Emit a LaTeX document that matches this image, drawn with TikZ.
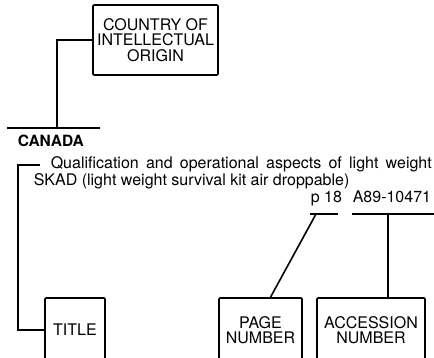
\documentclass[tikz,border=0pt]{standalone}
\usepackage{fontspec}
\setmainfont{TeX Gyre Heros}
\begin{document}
\begin{tikzpicture}[x=1pt,y=-1pt,line width=1.6pt,
  box/.style={draw,rounded corners=1pt,align=center,font=\fontsize{16}{15.5}\selectfont},
  txt/.style={anchor=base west,inner sep=0pt,font=\fontsize{16}{17}\selectfont}]
  \useasboundingbox (0,0) rectangle (434,358);
  \clip (0,0) rectangle (434,358);
  \node[box,minimum width=125pt,minimum height=70pt] (country) at (155.5,40) {COUNTRY OF\\INTELLECTUAL\\ORIGIN};
  \coordinate (ulA) at (7,128);
  \coordinate (ulB) at (100,128);
  \coordinate (ulJ) at (57,128);
  \draw (ulA) -- (ulB);
  \draw (ulJ) |- (country.west);
  \node[txt,font=\fontsize{15.5}{17}\selectfont\bfseries] (canada) at (17,147) {CANADA};
  \node[txt] (title1) at (50,169) {\makebox[381pt][s]{Qualification and operational aspects of light weight}};
  \node[txt] (title2) at (33,186) {SKAD (light weight survival kit air droppable)};
  \node[txt] (page) at (310,203) {p 18};
  \node[txt] (accno) at (352,203) {A89-10471};
  \node[box,minimum width=60pt,minimum height=64pt] (titlebox) at (75,330) {TITLE};
  \node[box,minimum width=83pt,minimum height=64pt] (pagebox) at (260.5,330) {PAGE\\NUMBER};
  \node[box,minimum width=108pt,minimum height=64pt] (accbox) at (371,330) {ACCESSION\\NUMBER};
  \coordinate (tcorner) at (18,330);
  \draw ([xshift=-10pt]title1.west) -| (tcorner) -- (titlebox.west);
  \coordinate (pgA) at (310,214);
  \coordinate (pgB) at (338,214);
  \coordinate (pgJ) at (316,214);
  \coordinate (acA) at (352,214);
  \coordinate (acB) at (434,214);
  \coordinate (acJ) at (388,214);
  \draw (pgA) -- (pgB);
  \draw (acA) -- (acB);
  \draw (pgJ) -- ([xshift=10pt]pagebox.north);
  \draw (acJ) -- (acJ |- accbox.north);
\end{tikzpicture}
\end{document}
